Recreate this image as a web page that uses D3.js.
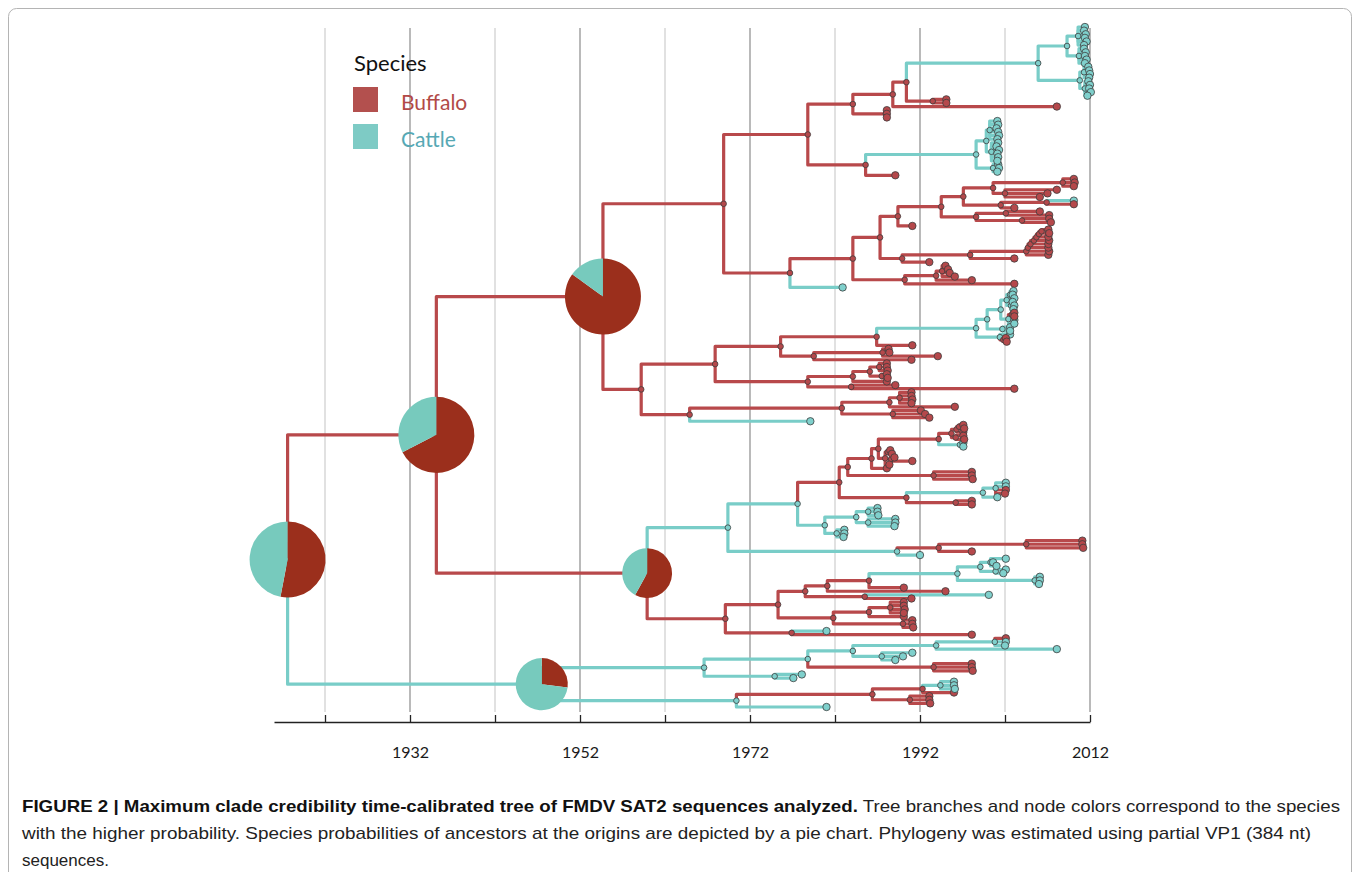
<!DOCTYPE html>
<html>
<head>
<meta charset="utf-8">
<script src="https://cdn.jsdelivr.net/npm/d3@7"></script>
<style>
  body { margin: 0; background: #fff; }
  svg { display: block; }
</style>
</head>
<body>
<div id="chart"></div>
<script>
// species categories
const species = ["Buffalo", "Cattle"];

// tree written as small newick-like pieces: label = species letter (b/c) + node year, #id for pie nodes
const topClusterA = "((c2011.4,c2011.3,c2011.5,c2011.4,c2011.6,c2011.3)c2010.6,(c2011.3,c2011.5,c2011.4,c2011.6,c2011.4)c2010.7)c2009.3";
const topClusterB = "((c2011.8,c2011.9,c2012.0,c2011.9)c2011.3,(c2011.8,c2012.0,c2011.9,c2012.1,c2011.7)c2011.4)c2010.8";
const midCluster = "((c2001.1,c2001.2,c2001.0,c2001.2,c2001.3,c2001.1)c2000.2,(c2001.2,c2001.0,c2001.3,c2001.1,c2001.2,c2001.1)c2000.4)c1999.8";
const cladeTop = `((((${topClusterA},${topClusterB})c2005.9,(b1995.1,b1995.1)b1993.5)b1990.4,b2008.1)b1988.8,(b1988.1,b1988.1,b1988.1)b1988.0)b1984.1`;
const cladeMid = `((${midCluster},(c2001.2,c2001.3,c2001.1)c2000.6)c1998.6,b1989.1)b1985.6`;

const fan = "(((((((b2007.1,b2007.2)b2006.3,b2007.1)b2006.0,b2007.2)b2005.7,b2007.1)b2005.4,b2007.1)b2005.0,b2007.2)b2004.7,b2007.1)b2004.5";
const clade941 = "((((b2010.1,b2010.2,b2010.1)b2008.8,(b2008.1,b2007.0,b2006.1)b2002.0)b2000.6,((c2010.1,b2010.1)b2006.9,b2003.1)b2001.5)b1997.1,((b2006.1,b2007.2)b2002.1,(b2007.2,b2007.4)b2004.0)b1998.6)b1994.5";
const clade880 = `((${clade941},b1991.1)b1989.4,((${fan},b2003.1)b1997.9,b1993.1)b1989.9)b1987.3`;
const clade905 = "(((b1995.0,b1995.3,b1995.5,b1996.1)b1994.6,b1998.1)b1993.9,b2003.1)b1990.2";
const clade724 = `((${cladeTop},${cladeMid})b1978.8,((${clade880},${clade905})b1984.1,c1982.9)b1976.7)b1968.9`;

const clade1007 = "((c2003.0,c2002.9,c2003.1)c2002.6,(c2002.9,c2003.1,c2003.0)c2002.7)c2002.2";
const cladeT2 = `((${clade1007},((b2003.1,b2003.1)b2002.8,c2003.1,c2003.1)c2002.4)c2001.5,(c2002.6,c2002.6)c2001.7)c1999.9`;
const clade877 = `((${cladeT2},(c2002.6,(b2002.1,b2002.2)b2001.8)c2001.4)c1998.6,b1991.1)b1986.9`;
const clade814 = "((b1988.3,b1988.4,b1994.1)b1987.6,b1991.0)b1979.5";
const clade807 = "((((b1988.1,b1988.1,b1988.2)b1987.2,(b1988.1,b1988.2)b1987.5)b1986.1,b1988.1)b1984.1,(b1989.1,b2003.1)b1983.9)b1978.8";
const clade690 = "((((b1991.0,b1991.0,b1991.1,b1991.0)b1989.6,b1996.1)b1988.4,(b1992.1,b1992.6,b1993.1)b1988.8)b1982.8,c1979.1)b1964.9";
const clade641 = `(((${clade877},${clade814})b1975.6,${clade807})b1967.9,${clade690})b1959.2`;
const cladeA1 = `(${clade724},${clade641})b1954.7#A1`;

const clade951 = "(((b1997.1,b1997.2)b1996.6,b1997.1)b1996.3,(b1997.1,b1997.2)b1996.2)b1995.7";
const clade878 = `((${clade951},(c1997.1,c1997.1)c1996.7)b1994.2,((b1988.5,b1988.7)b1988.2,(b1989.0,b1991.1)b1988.6,b1988.4)b1987.9)b1987.1`;
const clade848 = `((${clade878},b1988.1)b1986.3,(b1998.1,b1998.1,b1998.2)b1993.6)b1983.5`;
const clade906 = "(((c2002.1,c2002.1,b2002.1,b2002.0)c2000.9,c2001.1)c1999.4,(b1998.1,b1998.1)b1996.2)b1990.4";
const clade825 = "(((c1987.0,c1987.0,c1987.1)c1985.9,(c1989.1,c1989.1,c1989.0)c1985.9)c1984.5,(c1983.1,c1983.1,c1983.0)c1982.2)c1980.8";
const clade896 = "(((b2011.1,b2011.1,b2011.2)b2004.5,b1998.1)b1994.2,c1992.0)c1989.3";
const clade728 = `(((${clade848},${clade906})b1982.5,${clade825})c1977.6,${clade896})c1969.4`;
const clade980 = "((c2002.1,c2000.6,c2001.0)c2000.3,(c2002.1,c2001.8)c2000.9)c1999.1";
const clade805 = `((((${clade980},(c2006.1,c2006.1,c2006.0)c2005.5)c1996.4,b1990.1)b1986.0,b1995.0)b1981.1,(c2000.1,b1991.0)b1985.5)b1978.5`;
const clade833 = "(((b1990.1,b1990.1,b1990.2,b1990.1)b1988.5,b1990.1)b1986.0,(b1991.1,b1991.1,b1991.2)b1990.0)b1981.8";
const clade725 = `((${clade805},${clade833})b1975.3,(c1981.0,b1998.1)b1976.9)b1969.1`;
const cladeA2 = `(${clade728},${clade725})b1959.9#A2`;

const clade704 = "((((b2002.1,c2002.1,c2002.0)c2000.8,c2008.1)c1993.9,(c1991.1,c1990.0,c1989.1)c1987.5)c1984.1,(b1998.1,b1998.1,b1998.2)b1993.6)c1978.8";
const clade872 = "(((c1996.0,c1996.0,c1996.1)c1994.4,b1996.0)b1992.3,(b1993.1,b1993.1,b1993.2)b1990.8)b1986.4";
const cladeC = `((${clade704},(c1978.1,c1977.1)c1974.9)c1966.6,(${clade872},c1981.0)c1970.4)c1947.5#C`;

const treeString = `((${cladeA1},${cladeA2})b1935.1#A,${cladeC})b1917.6#root`;

// ancestral species probabilities (pie charts)
const pieIds = ["root", "A", "A1", "A2", "C"];
const pieBuffalo = [0.53, 0.675, 0.85, 0.58, 0.27];
const pieSupport = [1, 1, 1, 0.43, 0.47];

// axis
const gridYears = [1922, 1932, 1942, 1952, 1962, 1972, 1982, 1992, 2002, 2012];
const labelYears = [1932, 1952, 1972, 1992, 2012];

const captionBold = "FIGURE 2 | Maximum clade credibility time-calibrated tree of FMDV SAT2 sequences analyzed.";
const captionLines = [
  " Tree branches and node colors correspond to the species",
  "with the higher probability. Species probabilities of ancestors at the origins are depicted by a pie chart. Phylogeny was estimated using partial VP1 (384 nt)",
  "sequences."
];

// parse the newick-like string
function parseTree(s) {
  let i = 0;
  function node() {
    const n = {};
    if (s[i] === "(") {
      n.children = [];
      i++;
      n.children.push(node());
      while (s[i] === ",") { i++; n.children.push(node()); }
      i++;
    }
    const j = i;
    while (i < s.length && !",()".includes(s[i])) i++;
    const lab = s.slice(j, i);
    const [yr, id] = lab.slice(1).split("#");
    n.species = lab[0] === "b" ? "Buffalo" : "Cattle";
    n.year = +yr;
    if (id) n.id = id;
    return n;
  }
  return node();
}

const width = 1360, height = 872;
const branchColor = { Buffalo: "#b8494b", Cattle: "#79cdc8" };
const dotColor = { Buffalo: "#b5484b", Cattle: "#7fd0cc" };
const pieColor = { Buffalo: "#9b2f1c", Cattle: "#77cabd" };

const svg = d3.select("#chart").append("svg")
  .attr("width", width)
  .attr("height", height);

// frame
svg.append("rect")
  .attr("x", 8.5).attr("y", 8.5)
  .attr("width", 1343).attr("height", 900)
  .attr("rx", 8)
  .attr("fill", "none")
  .attr("stroke", "#b4b4b4");

const x = d3.scaleLinear().domain([1916, 2012]).range([274, 1090]);

const root = d3.hierarchy(parseTree(treeString.replace(/\s/g, "")));
const leaves = root.leaves();
const y = d3.scaleLinear().domain([0, leaves.length - 1]).range([27, 707]);
leaves.forEach((d, i) => { d.py = y(i); });
root.eachAfter(d => {
  d.px = x(d.data.year);
  if (d.children) d.py = (d.children[0].py + d.children[d.children.length - 1].py) / 2;
});

// gridlines
svg.append("g")
  .selectAll("line")
  .data(gridYears)
  .join("line")
  .attr("x1", d => x(d)).attr("x2", d => x(d))
  .attr("y1", 28).attr("y2", 712)
  .attr("stroke", d => labelYears.includes(d) ? "#9c9c9c" : "#d4d4d4")
  .attr("stroke-width", 1.4);

// branches
svg.append("g")
  .attr("fill", "none")
  .attr("stroke-width", 3.2)
  .attr("stroke-linejoin", "round")
  .attr("stroke-linecap", "round")
  .selectAll("path")
  .data(root.descendants().filter(d => d.parent))
  .join("path")
  .attr("stroke", d => branchColor[d.data.species])
  .attr("d", d => `M${d.parent.px},${d.parent.py}V${d.py}H${d.px}`);

// nodes and tips
svg.append("g")
  .selectAll("circle")
  .data(root.descendants().filter(d => !d.data.id))
  .join("circle")
  .attr("cx", d => d.px)
  .attr("cy", d => d.py)
  .attr("r", d => d.children ? 2.8 : 3.7)
  .attr("fill", d => dotColor[d.data.species])
  .attr("stroke", "#3d3d3d")
  .attr("stroke-width", 0.8);

// pies at the origins
const pieR = d3.scaleSqrt().domain([0, 1]).range([0, 38]);
const pie = d3.pie().sort(null).value(d => d.p);
const pieNodes = root.descendants().filter(d => d.data.id);
pieNodes.forEach(d => {
  const k = pieIds.indexOf(d.data.id);
  const arc = d3.arc().innerRadius(0).outerRadius(pieR(pieSupport[k]));
  svg.append("g")
    .attr("transform", `translate(${d.px},${d.py})`)
    .selectAll("path")
    .data(pie([{ s: "Buffalo", p: pieBuffalo[k] }, { s: "Cattle", p: 1 - pieBuffalo[k] }]))
    .join("path")
    .attr("d", arc)
    .attr("fill", a => pieColor[a.data.s]);
});

// axis
svg.append("g")
  .attr("transform", "translate(0,722)")
  .call(d3.axisBottom(x)
    .tickValues(gridYears)
    .tickSizeInner(-7)
    .tickSizeOuter(0)
    .tickPadding(25)
    .tickFormat(d => labelYears.includes(d) ? d : ""))
  .call(g => g.select(".domain").attr("stroke", "#222").attr("stroke-width", 1.5))
  .call(g => g.selectAll(".tick line").attr("stroke", "#222").attr("stroke-width", 1.3))
  .call(g => g.selectAll(".tick text")
    .attr("fill", "#1a1a1a")
    .style("font", "16px Lato, 'Open Sans', sans-serif"));

// legend
const legend = svg.append("g").style("font-family", "Lato, 'Open Sans', sans-serif");
legend.append("text")
  .attr("x", 354).attr("y", 71)
  .attr("font-size", 22)
  .attr("fill", "#111")
  .text("Species");
const legendFill = { Buffalo: "#b3504e", Cattle: "#7ecbc5" };
const legendText = { Buffalo: "#b24a47", Cattle: "#56a8b4" };
species.forEach((s, i) => {
  legend.append("rect")
    .attr("x", 353).attr("y", 87 + i * 37)
    .attr("width", 25).attr("height", 25)
    .attr("fill", legendFill[s]);
  legend.append("text")
    .attr("x", 401).attr("y", 110 + i * 37)
    .attr("font-size", 21)
    .attr("fill", legendText[s])
    .text(s);
});

// caption
const cap = svg.append("g")
  .style("font-family", "'Liberation Sans', Arial, sans-serif")
  .attr("font-size", 17)
  .attr("fill", "#222");
const line1 = cap.append("text")
  .attr("x", 22).attr("y", 812)
  .attr("textLength", 1318)
  .attr("lengthAdjust", "spacingAndGlyphs");
line1.append("tspan").attr("font-weight", "bold").attr("fill", "#111").text(captionBold);
line1.append("tspan").text(captionLines[0]);
cap.append("text")
  .attr("x", 22).attr("y", 839)
  .attr("textLength", 1289)
  .attr("lengthAdjust", "spacingAndGlyphs")
  .text(captionLines[1]);
cap.append("text")
  .attr("x", 22).attr("y", 866)
  .text(captionLines[2]);
</script>
</body>
</html>
